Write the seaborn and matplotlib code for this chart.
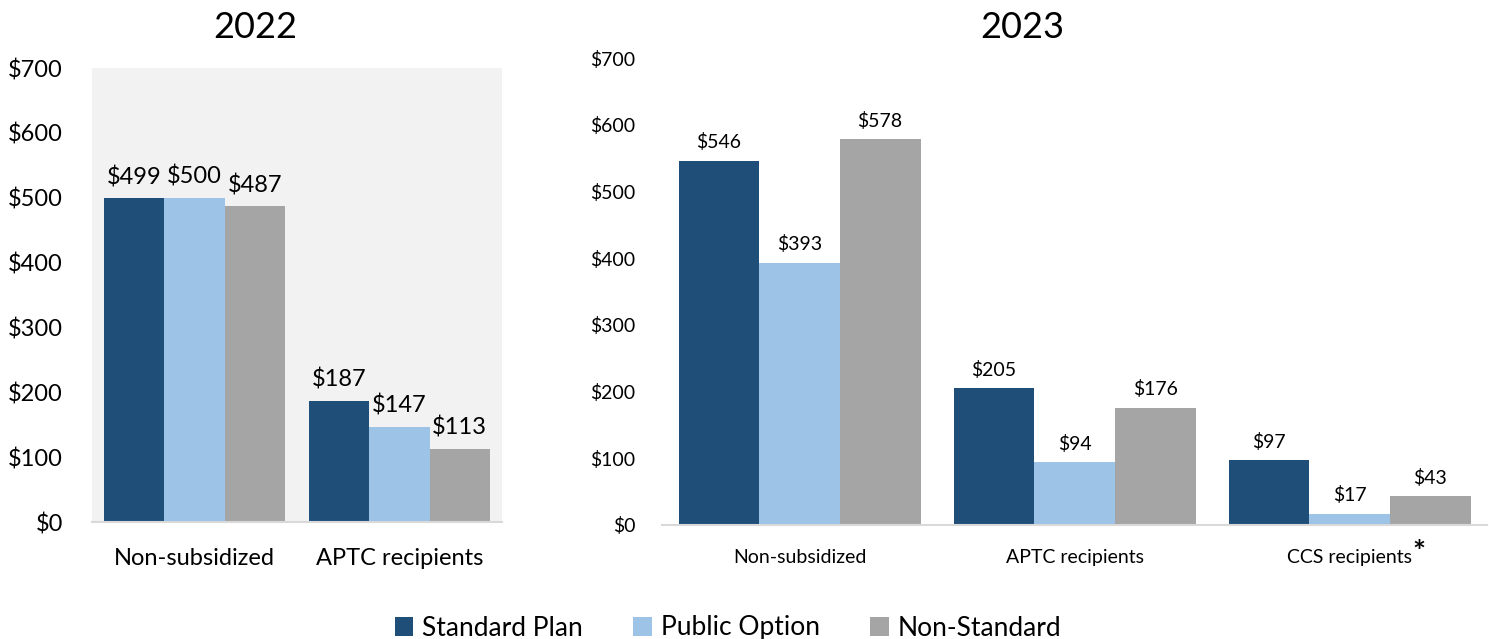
import numpy as np
import pandas as pd
import matplotlib
matplotlib.use("Agg")
import matplotlib.pyplot as plt
from matplotlib.ticker import StrMethodFormatter
import seaborn as sns

sns.set_style("white")
plt.rcParams['font.family'] = ['Lato', 'DejaVu Sans']
plt.rcParams['mathtext.default'] = 'regular'
plt.rcParams['text.color'] = 'black'

plans = ["Standard Plan", "Public Option", "Non-Standard"]
colors = ["#1F4E79", "#9DC3E6", "#A5A5A5"]

cats2022 = ["Non-subsidized", "APTC recipients"]
standard2022 = [499, 187]
public2022 = [500, 147]
nonstd2022 = [487, 113]

cats2023 = ["Non-subsidized", "APTC recipients", "CCS recipients"]
standard2023 = [546, 205, 97]
public2023 = [393, 94, 17]
nonstd2023 = [578, 176, 43]


def longTable(cats, s, p, n):
    rows = []
    for plan, vals in zip(plans, [s, p, n]):
        for c, v in zip(cats, vals):
            rows.append({"category": c, "plan": plan, "value": v})
    return pd.DataFrame(rows)


df22 = longTable(cats2022, standard2022, public2022, nonstd2022)
df23 = longTable(cats2023, standard2023, public2023, nonstd2023)

fig = plt.figure(figsize=(14.89, 6.39), dpi=100)
ax1 = fig.add_axes([92/1489, 117/639, 410/1489, 454/639])
ax2 = fig.add_axes([662/1489, 114/639, 825/1489, 467/639])


def drawPanel(ax, df, fsTick, fsLab, legend, ypad, xpad):
    sns.barplot(data=df, x="category", y="value", hue="plan", palette=colors,
                hue_order=plans, width=0.88, saturation=1, linewidth=0,
                ax=ax, legend=legend)
    ax.set_ylim(0, 700)
    ax.set_yticks(np.arange(0, 701, 100))
    ax.yaxis.set_major_formatter(StrMethodFormatter('${x:.0f}'))
    ax.set_xlim(-0.5, len(df["category"].unique()) - 0.5)
    ax.set_xlabel("")
    ax.set_ylabel("")
    for sp in ["top", "left", "right"]:
        ax.spines[sp].set_visible(False)
    ax.spines["bottom"].set_color("#D9D9D9")
    ax.spines["bottom"].set_linewidth(1.5)
    ax.tick_params(axis="both", length=0, labelsize=fsTick, colors="black")
    ax.tick_params(axis="y", pad=ypad)
    ax.tick_params(axis="x", pad=xpad)
    for c in ax.containers:
        ax.bar_label(c, fmt='${:.0f}', fontsize=fsLab, padding=7)


drawPanel(ax1, df22, 17, 17, False, 21, 19)
ax1.set_facecolor("#F2F2F2")

drawPanel(ax2, df23, 14, 14, True, 19, 17)
# footnote marker after the CCS label
ax2.annotate("*", xy=(2, 0), xycoords=ax2.get_xaxis_transform(),
             xytext=(50, -20), textcoords="offset points",
             ha="center", va="center", fontsize=22, fontweight="bold")

handles, labels = ax2.get_legend_handles_labels()
ax2.get_legend().remove()
fig.legend(handles, labels, loc="center", bbox_to_anchor=(728/1489, 1 - 628/639),
           ncol=3, frameon=False, fontsize=19, handlelength=0.7, handleheight=0.7,
           handletextpad=0.35, columnspacing=1.9)

fig.text(255/1489, 1 - 28/639, "2022", ha="center", va="center", fontsize=26)
fig.text(1022/1489, 1 - 28/639, "2023", ha="center", va="center", fontsize=26)

fig.savefig("out.png", dpi=100)
